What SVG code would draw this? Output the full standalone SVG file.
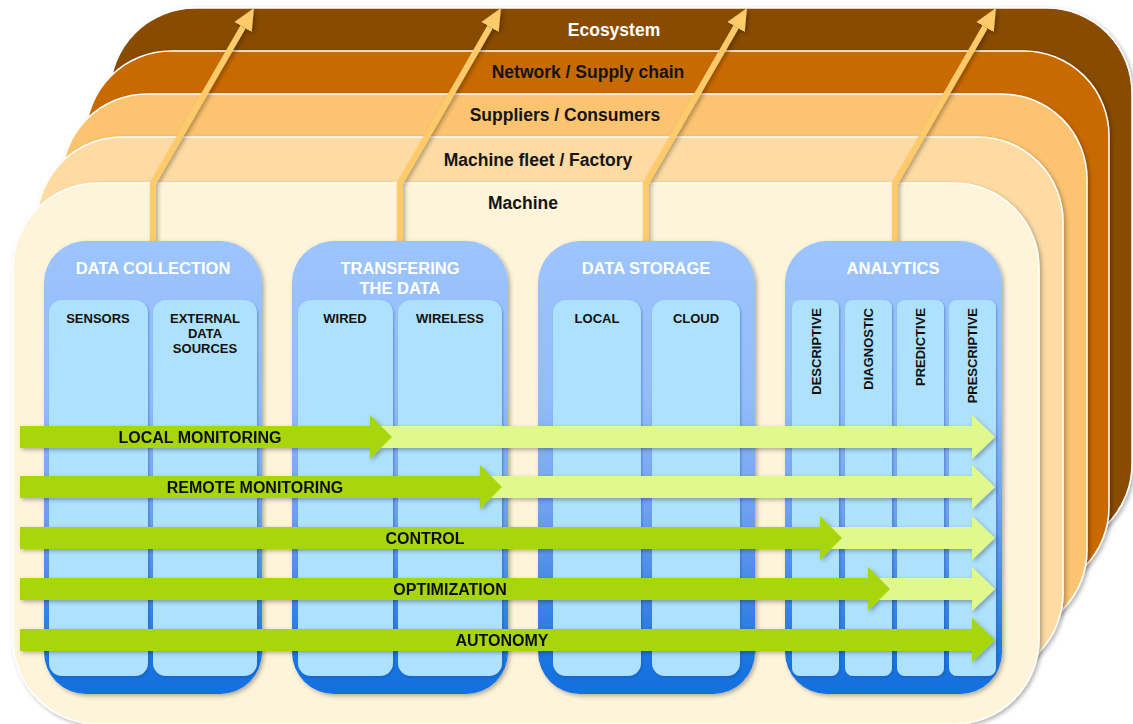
<svg xmlns="http://www.w3.org/2000/svg" width="1133" height="724" viewBox="0 0 1133 724">
<defs>
<style>
.layer{stroke:#ffffff;stroke-width:1.5}
.lbl{font-family:"Liberation Sans",Arial,sans-serif;font-weight:bold;font-size:17.5px;text-anchor:middle;fill:#141414}
.hdr{font-family:"Liberation Sans",Arial,sans-serif;font-weight:bold;font-size:16.5px;text-anchor:middle;fill:#ffffff}
.sub{font-family:"Liberation Sans",Arial,sans-serif;font-weight:bold;font-size:13px;text-anchor:middle;fill:#111111}
.vsub{font-family:"Liberation Sans",Arial,sans-serif;font-weight:bold;font-size:13px;text-anchor:end;fill:#111111}
.alb{font-family:"Liberation Sans",Arial,sans-serif;font-weight:bold;font-size:16px;text-anchor:middle;fill:#111111}
.panel{fill:url(#pg)}
.col{fill:#AEE1FC}
.dark{fill:#A7D608}
.light{fill:#E0F88C}
.up{fill:none;stroke:#FFCB6A;stroke-width:6;stroke-linejoin:miter}
</style>
<linearGradient id="pg" x1="0" y1="0" x2="0" y2="1">
<stop offset="0" stop-color="#9CC4FD"/>
<stop offset="0.35" stop-color="#93BCFA"/>
<stop offset="0.6" stop-color="#6E9FF0"/>
<stop offset="0.8" stop-color="#3D84E6"/>
<stop offset="0.93" stop-color="#1A74E0"/>
<stop offset="1" stop-color="#1270DE"/>
</linearGradient>
<filter id="sh" x="-10%" y="-10%" width="120%" height="120%">
<feDropShadow dx="2" dy="2" stdDeviation="2" flood-color="#000" flood-opacity="0.3"/>
</filter>
<filter id="sh2" x="-10%" y="-10%" width="120%" height="120%">
<feDropShadow dx="1" dy="1.5" stdDeviation="1" flood-color="#1a4fa0" flood-opacity="0.45"/>
</filter>
<marker id="ah" markerUnits="userSpaceOnUse" markerWidth="24" markerHeight="22" viewBox="0 -11 24 22" refX="0" refY="0" orient="auto">
<path d="M0,-10 L22,0 L0,10 Z" fill="#FFCB6A"/>
</marker>
</defs>

<g id="layers">
<g id="ecosystem"><rect class="layer" x="110" y="8" width="1022" height="541" rx="85" fill="#884B02" filter="url(#sh)"/><text class="lbl" x="614" y="36" fill="#ffffff" style="fill:#ffffff">Ecosystem</text></g>
<g id="network"><rect class="layer" x="86" y="51" width="1023" height="541" rx="85" fill="#C96B03" filter="url(#sh)"/><text class="lbl" x="588" y="78">Network / Supply chain</text></g>
<g id="suppliers"><rect class="layer" x="62" y="94" width="1025" height="541" rx="85" fill="#FCC36F" filter="url(#sh)"/><text class="lbl" x="565" y="121">Suppliers / Consumers</text></g>
<g id="fleet"><rect class="layer" x="37" y="137" width="1026" height="541" rx="85" fill="#FDDBA3" filter="url(#sh)"/><text class="lbl" x="538" y="166">Machine fleet / Factory</text></g>
<g id="machine"><rect class="layer" x="13" y="183" width="1026" height="541" rx="85" fill="#FEF4DA" filter="url(#sh)"/><text class="lbl" x="523" y="209">Machine</text></g>
</g>

<g id="connectors" filter="url(#sh)">
<polyline class="up" points="153,242 153,183 243,27" marker-end="url(#ah)"/>
<polyline class="up" points="400,242 400,183 490,27" marker-end="url(#ah)"/>
<polyline class="up" points="646,242 646,183 736,27" marker-end="url(#ah)"/>
<polyline class="up" points="895,242 895,183 985,27" marker-end="url(#ah)"/>
</g>

<g id="data-collection">
<rect class="panel" x="44" y="241" width="218" height="453" rx="42" filter="url(#sh)"/>
<text class="hdr" x="153" y="274">DATA COLLECTION</text>
<rect class="col" x="49" y="300" width="99" height="376" rx="13" filter="url(#sh2)"/>
<rect class="col" x="153" y="300" width="104" height="376" rx="13" filter="url(#sh2)"/>
<text class="sub" x="98" y="323">SENSORS</text>
<text class="sub" x="205" y="323">EXTERNAL</text>
<text class="sub" x="205" y="338">DATA</text>
<text class="sub" x="205" y="353">SOURCES</text>
</g>

<g id="transfering">
<rect class="panel" x="292" y="241" width="216" height="453" rx="42" filter="url(#sh)"/>
<text class="hdr" x="400" y="274">TRANSFERING</text>
<text class="hdr" x="400" y="294">THE DATA</text>
<rect class="col" x="298" y="300" width="95" height="376" rx="13" filter="url(#sh2)"/>
<rect class="col" x="398" y="300" width="104" height="376" rx="13" filter="url(#sh2)"/>
<text class="sub" x="345" y="323">WIRED</text>
<text class="sub" x="450" y="323">WIRELESS</text>
</g>

<g id="data-storage">
<rect class="panel" x="538" y="241" width="217" height="453" rx="42" filter="url(#sh)"/>
<text class="hdr" x="646" y="274">DATA STORAGE</text>
<rect class="col" x="553" y="300" width="88" height="376" rx="13" filter="url(#sh2)"/>
<rect class="col" x="652" y="300" width="88" height="376" rx="13" filter="url(#sh2)"/>
<text class="sub" x="597" y="323">LOCAL</text>
<text class="sub" x="696" y="323">CLOUD</text>
</g>

<g id="analytics">
<rect class="panel" x="785" y="241" width="217" height="453" rx="42" filter="url(#sh)"/>
<text class="hdr" x="893" y="274">ANALYTICS</text>
<rect class="col" x="792" y="300" width="47" height="376" rx="8" filter="url(#sh2)"/>
<rect class="col" x="845" y="300" width="47" height="376" rx="8" filter="url(#sh2)"/>
<rect class="col" x="897" y="300" width="47" height="376" rx="8" filter="url(#sh2)"/>
<rect class="col" x="949" y="300" width="47" height="376" rx="8" filter="url(#sh2)"/>
<text class="vsub" transform="translate(820.6,308) rotate(-90)">DESCRIPTIVE</text>
<text class="vsub" transform="translate(872.6,308) rotate(-90)">DIAGNOSTIC</text>
<text class="vsub" transform="translate(924.6,308) rotate(-90)">PREDICTIVE</text>
<text class="vsub" transform="translate(976.6,308) rotate(-90)">PRESCRIPTIVE</text>
</g>

<g id="local-monitoring" filter="url(#sh)">
<polygon class="light" points="370,426 972,426 972,415 995,437 972,459 972,448 370,448"/>
<polygon class="dark" points="20,426 370,426 370,415 392,437 370,459 370,448 20,448"/>
<text class="alb" x="200" y="443">LOCAL MONITORING</text>
</g>
<g id="remote-monitoring" filter="url(#sh)">
<polygon class="light" points="480,476 972,476 972,465 995,487 972,509 972,498 480,498"/>
<polygon class="dark" points="20,476 480,476 480,465 502,487 480,509 480,498 20,498"/>
<text class="alb" x="255" y="493">REMOTE MONITORING</text>
</g>
<g id="control" filter="url(#sh)">
<polygon class="light" points="820,527 972,527 972,516 995,538 972,560 972,549 820,549"/>
<polygon class="dark" points="20,527 820,527 820,516 842,538 820,560 820,549 20,549"/>
<text class="alb" x="425" y="544">CONTROL</text>
</g>
<g id="optimization" filter="url(#sh)">
<polygon class="light" points="868,578 972,578 972,567 995,589 972,611 972,600 868,600"/>
<polygon class="dark" points="20,578 868,578 868,567 890,589 868,611 868,600 20,600"/>
<text class="alb" x="450" y="595">OPTIMIZATION</text>
</g>
<g id="autonomy" filter="url(#sh)">
<polygon class="dark" points="20,629 972,629 972,618 995,640 972,662 972,651 20,651"/>
<text class="alb" x="502" y="646">AUTONOMY</text>
</g>
</svg>
